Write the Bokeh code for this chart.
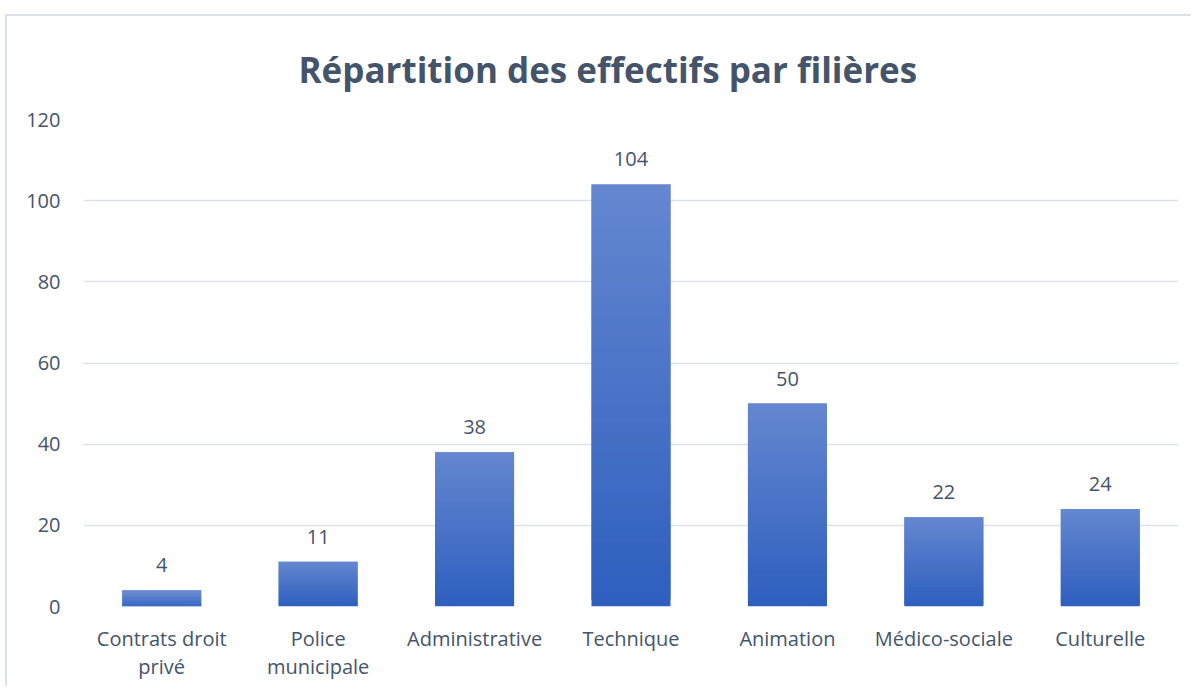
from bokeh.plotting import figure
from bokeh.models import FixedTicker, LabelSet, ColumnDataSource
from bokeh.core.properties import value
from bokeh.embed import file_html
from bokeh.resources import INLINE

categories = ["Contrats droit\nprivé", "Police\nmunicipale", "Administrative", "Technique",
              "Animation", "Médico-sociale", "Culturelle"]
values = [4, 11, 38, 104, 50, 22, 24]
y_ticks = [0, 20, 40, 60, 80, 100, 120]

TEXT = "#44546A"
GRID = "#dde2e8"
BOTTOM_RGB = (46, 95, 190)
TOP_RGB = (100, 135, 208)
N = 60

p = figure(x_range=categories, y_range=(0, 120), width=1186, height=672,
           output_backend="svg", toolbar_location=None,
           min_border_left=76, min_border_right=15, min_border_top=103, min_border_bottom=82,
           styles={"border-left": "2px solid #dde2e8", "border-top": "2px solid #dde2e8",
                   "margin-top": "14px", "margin-left": "5px"})
p.outline_line_color = None
p.background_fill_color = "white"

# gradient bars: overlapping slices from bottom to top of each bar
xs, bottoms, tops, colors = [], [], [], []
for c, v in zip(categories, values):
    for i in range(N):
        t = (i + 0.5) / N
        rgb = tuple(int(round(BOTTOM_RGB[k] + (TOP_RGB[k] - BOTTOM_RGB[k]) * t)) for k in range(3))
        xs.append(c)
        bottoms.append(v * i / N)
        tops.append(min(v, v * (i + 2) / N))
        colors.append("#%02x%02x%02x" % rgb)
p.vbar(x=xs, bottom=bottoms, top=tops, width=0.505, fill_color=colors, line_color=None)

src = ColumnDataSource(dict(x=categories, y=values, t=[str(v) for v in values]))
labels = LabelSet(x="x", y="y", text="t", source=src, text_align="center", text_baseline="bottom",
                  y_offset=18, text_color=TEXT, text_font=value("Open Sans"), text_font_size="20px")
p.add_layout(labels)

p.title.text = "Répartition des effectifs par filières"
p.title.align = "left"
p.title.offset = 215
p.title.text_font = "Open Sans"
p.title.text_font_style = "bold"
p.title.text_font_size = "35px"
p.title.text_color = TEXT
p.title.standoff = 53

p.yaxis.ticker = FixedTicker(ticks=y_ticks)
p.yaxis.axis_line_color = None
p.yaxis.major_tick_line_color = None
p.yaxis.minor_tick_line_color = None
p.yaxis.major_label_text_color = TEXT
p.yaxis.major_label_text_font = "Open Sans"
p.yaxis.major_label_text_font_size = "20px"
p.yaxis.major_label_standoff = 17

p.xaxis.axis_line_color = None
p.xaxis.major_tick_line_color = None
p.xaxis.major_label_text_color = TEXT
p.xaxis.major_label_text_font = "Open Sans"
p.xaxis.major_label_text_font_size = "20px"
p.xaxis.major_label_text_line_height = 1.05
p.xaxis.major_label_standoff = 12

p.xgrid.grid_line_color = None
p.ygrid.grid_line_color = GRID
p.ygrid.grid_line_width = 1.5

open("out.html", "w").write(file_html(p, INLINE))
